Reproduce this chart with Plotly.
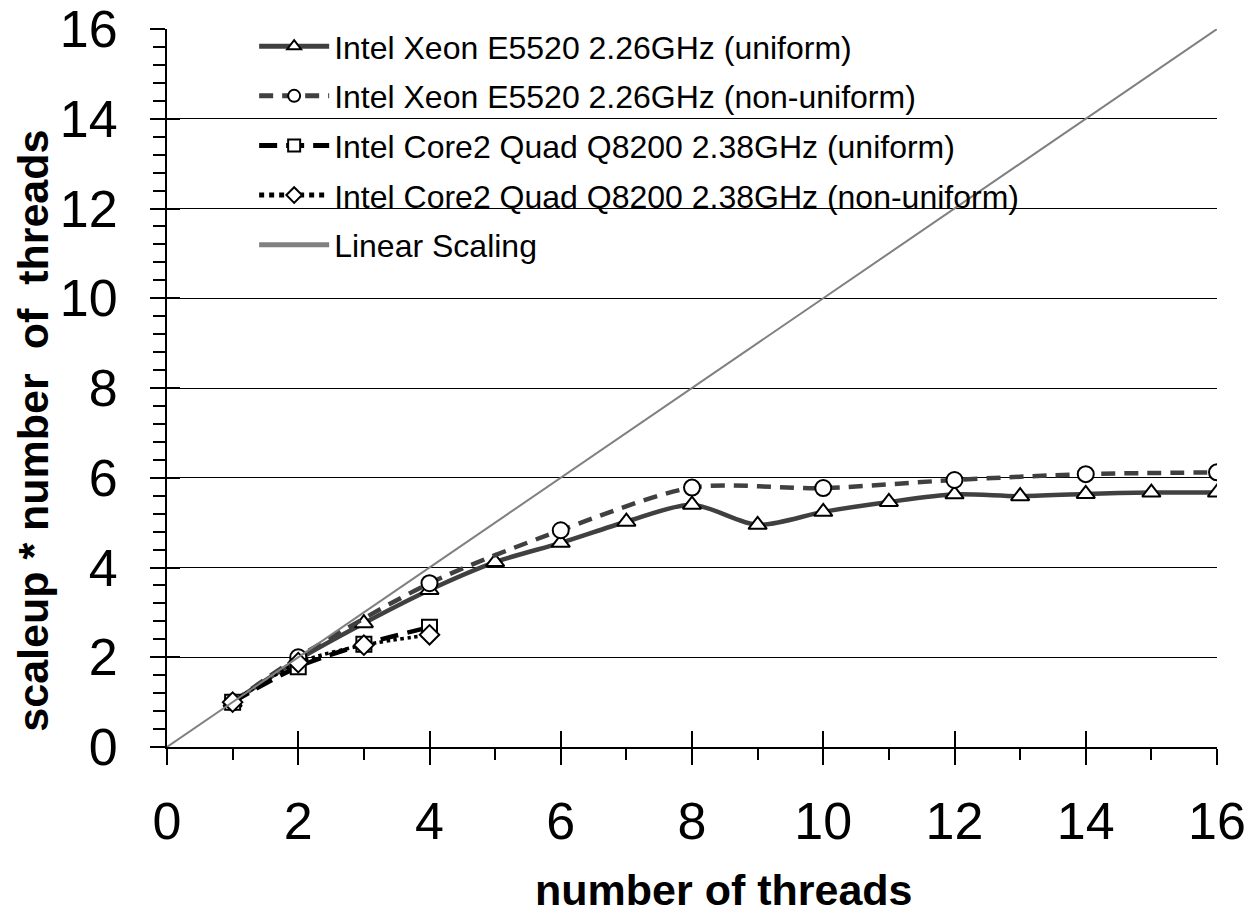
import plotly.graph_objects as go

# ---- data ----
threads_all = list(range(1, 17))
xeon_uniform = [1.0, 1.95, 2.76, 3.5, 4.12, 4.55, 5.02, 5.4, 4.95, 5.24, 5.46, 5.63, 5.59, 5.64, 5.67, 5.67]

threads_nonuni = [1, 2, 4, 6, 8, 10, 12, 14, 16]
xeon_nonuniform = [1.0, 2.0, 3.65, 4.83, 5.78, 5.77, 5.95, 6.08, 6.12]

threads_core2 = [1, 2, 3, 4]
core2_uniform = [1.0, 1.79, 2.29, 2.67]
core2_nonuniform = [1.0, 1.88, 2.27, 2.5]

linear_x = list(range(0, 17))
linear_y = list(range(0, 17))

names = [
    "Intel Xeon E5520 2.26GHz (uniform)",
    "Intel Xeon E5520 2.26GHz (non-uniform)",
    "Intel Core2 Quad Q8200 2.38GHz (uniform)",
    "Intel Core2 Quad Q8200 2.38GHz (non-uniform)",
    "Linear Scaling",
]
x_title = "number of threads"
y_title = "scaleup * number\u00a0\u00a0of\u00a0\u00a0threads"

FONT = "Arial, Liberation Sans, sans-serif"

fig = go.Figure()

def mk(symbol, size=15):
    return dict(symbol=symbol, size=size, color="white", line=dict(color="black", width=2))

fig.add_trace(go.Scatter(
    x=threads_all, y=xeon_uniform, name=names[0], mode="lines+markers",
    line=dict(color="#404040", width=4.5, shape="spline", smoothing=0.8),
    marker=mk("triangle-up", 16), legendgroup="g1"))
fig.add_trace(go.Scatter(
    x=threads_nonuni, y=xeon_nonuniform, name=names[1], mode="lines+markers",
    line=dict(color="#404040", width=4.5, dash="14px,9px", shape="spline", smoothing=0.8),
    marker=mk("circle", 16), legendgroup="g2"))
fig.add_trace(go.Scatter(
    x=threads_core2, y=core2_uniform, name=names[2], mode="lines+markers",
    line=dict(color="black", width=4.5, dash="18px,9px", shape="spline", smoothing=0.8),
    marker=mk("square", 15), legendgroup="g3"))
fig.add_trace(go.Scatter(
    x=threads_core2, y=core2_nonuniform, name=names[3], mode="lines+markers",
    line=dict(color="black", width=3.5, dash="dot", shape="spline", smoothing=0.8),
    marker=mk("diamond", 15), legendgroup="g4"))
fig.add_trace(go.Scatter(
    x=linear_x, y=linear_y, name=names[4], mode="lines",
    line=dict(color="#808080", width=2), legendgroup="g5"))

# overlay axes to get crossing major ticks
fig.add_trace(go.Scatter(x=[0], y=[0], xaxis="x2", yaxis="y2", mode="markers",
                         marker=dict(opacity=0), showlegend=False, hoverinfo="skip"))

fig.update_layout(
    width=1249, height=915,
    margin=dict(l=167, r=32, t=29, b=168, autoexpand=False),
    paper_bgcolor="white", plot_bgcolor="white",
    font=dict(family=FONT, color="black"),
    showlegend=True,
    legend=dict(x=0.083, y=1.014, xanchor="left", yanchor="top",
                bgcolor="rgba(0,0,0,0)", borderwidth=0,
                font=dict(size=32, family=FONT, color="black"),
                itemwidth=70, itemsizing="constant",
                traceorder="grouped", tracegroupgap=5),
    xaxis=dict(range=[0, 16], dtick=2, tick0=0, showgrid=False, zeroline=False,
               showline=True, linecolor="black", linewidth=2, automargin=False,
               ticks="outside", ticklen=16, tickwidth=2, tickcolor="black",
               minor=dict(dtick=1, ticks="outside", ticklen=11, tickwidth=2, tickcolor="black", showgrid=False),
               tickfont=dict(size=52, family=FONT, color="black"),
               ticklabelstandoff=12, fixedrange=True),
    yaxis=dict(range=[0, 16], dtick=2, tick0=0, showgrid=True, gridcolor="black", gridwidth=1.3,
               zeroline=False, showline=True, linecolor="black", linewidth=2, automargin=False,
               ticks="outside", ticklen=15, tickwidth=2, tickcolor="black",
               minor=dict(dtick=0.4, ticks="outside", ticklen=12, tickwidth=2, tickcolor="black", showgrid=False),
               tickfont=dict(size=52, family=FONT, color="black"),
               ticklabelstandoff=22, fixedrange=True),
    xaxis2=dict(range=[0, 16], dtick=2, tick0=0, overlaying="x", anchor="y2", side="bottom",
                showgrid=False, zeroline=False, showline=False, showticklabels=False, automargin=False,
                ticks="inside", ticklen=16, tickwidth=2, tickcolor="black", fixedrange=True),
    yaxis2=dict(range=[0, 16], dtick=2, tick0=0, overlaying="y", anchor="x2", side="left",
                showgrid=False, zeroline=False, showline=False, showticklabels=False, automargin=False,
                ticks="inside", ticklen=13, tickwidth=2, tickcolor="black", fixedrange=True),
    annotations=[
        dict(text="<b>%s</b>" % x_title, xref="paper", yref="paper", x=0.53, y=-0.199,
             xanchor="center", yanchor="middle", showarrow=False,
             font=dict(size=43, family=FONT, color="black")),
        dict(text="<b>%s</b>" % y_title, xref="paper", yref="paper", x=-0.128, y=0.44,
             xanchor="center", yanchor="middle", showarrow=False, textangle=-90,
             font=dict(size=43, family=FONT, color="black")),
    ],
)

fig.write_html("out.html", config={"displayModeBar": False},
               post_script="document.body.style.margin='0';document.body.style.overflow='hidden';")
